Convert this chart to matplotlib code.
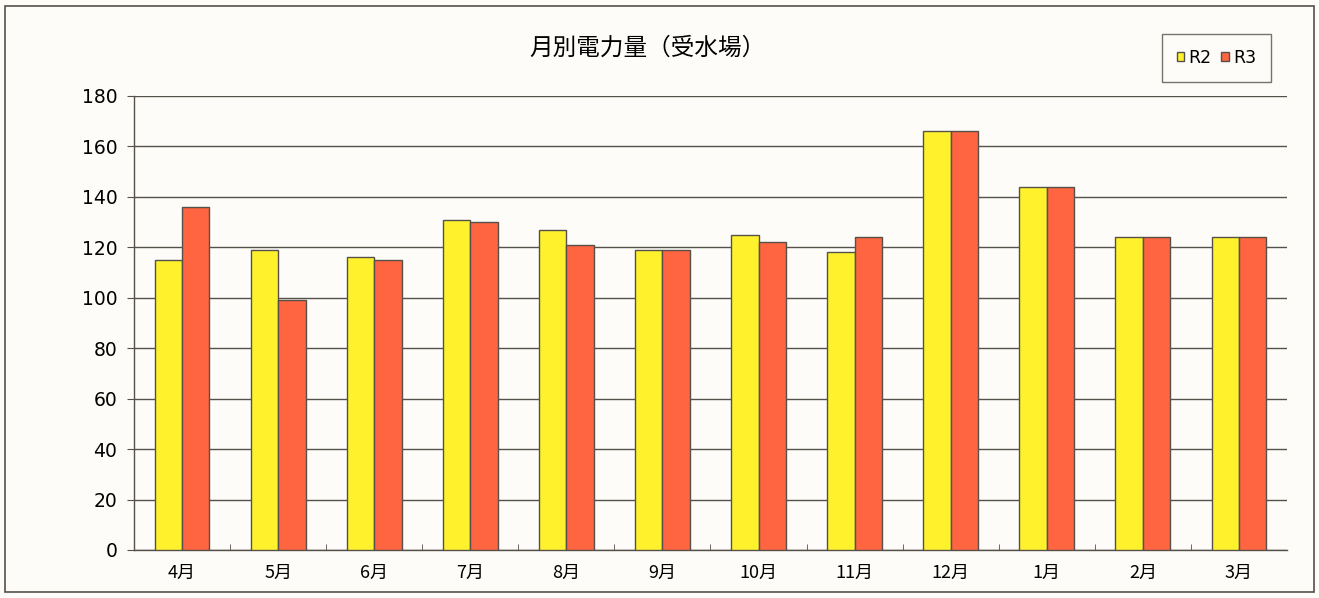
import numpy as np
import matplotlib.pyplot as plt
from matplotlib.patches import Rectangle

plt.rcParams['font.family'] = ['Noto Sans CJK JP', 'DejaVu Sans']

months = ['4月', '5月', '6月', '7月', '8月', '9月', '10月', '11月', '12月', '1月', '2月', '3月']
r2 = [115, 119, 116, 131, 127, 119, 125, 118, 166, 144, 124, 124]
r3 = [136, 99, 115, 130, 121, 119, 122, 124, 166, 144, 124, 124]
yticks = [0, 20, 40, 60, 80, 100, 120, 140, 160, 180]

bg = '#fdfcf8'
edge = '#555049'
fig = plt.figure(figsize=(13.19, 5.98), dpi=100, facecolor=bg)
ax = fig.add_axes([0.1016, 0.0803, 0.8741, 0.7592], facecolor=bg)

# outer chart frame
fig.patches.append(Rectangle((0.004, 0.01), 0.992, 0.98, transform=fig.transFigure,
                             fill=False, edgecolor=edge, linewidth=1.2))

x = np.arange(len(months))
w = 0.285
ax.bar(x - w / 2, r2, w, color='#fff22c', edgecolor=edge, linewidth=1.0, label='R2', zorder=3)
ax.bar(x + w / 2, r3, w, color='#fe6540', edgecolor=edge, linewidth=1.0, label='R3', zorder=3)

ax.set_xlim(-0.5, len(months) - 0.5)
ax.set_ylim(0, 180)
ax.set_yticks(yticks)
ax.set_yticklabels([str(v) for v in yticks], family='DejaVu Sans')
ax.yaxis.grid(True, color=edge, linewidth=1.0, zorder=0)
ax.set_xticks(x)
ax.set_xticklabels(months, fontsize=13)
ax.tick_params(axis='x', length=0, pad=10)
ax.set_xticks(np.arange(0.5, len(months) - 1, 1), minor=True)
ax.tick_params(axis='x', which='minor', direction='in', length=4, color=edge)
ax.tick_params(axis='y', labelsize=13.5, length=5, color=edge, pad=7)

for s in ('top', 'right'):
    ax.spines[s].set_visible(False)
for s in ('left', 'bottom'):
    ax.spines[s].set_color(edge)
    ax.spines[s].set_linewidth(1.0)

fig.text(0.491, 0.92, '月別電力量（受水場）', ha='center', va='center', fontsize=17)

leg = ax.legend(loc='center', bbox_to_anchor=(0.939, 1.084), ncol=2, frameon=True,
                fancybox=False, edgecolor=edge, prop={'family': 'DejaVu Sans', 'size': 12.5},
                handlelength=0.45, handleheight=0.45, handletextpad=0.25,
                columnspacing=0.55, borderpad=0.85)
leg.get_frame().set_linewidth(1.0)
leg.get_frame().set_facecolor(bg)

fig.savefig('out.png', dpi=100, facecolor=bg)
